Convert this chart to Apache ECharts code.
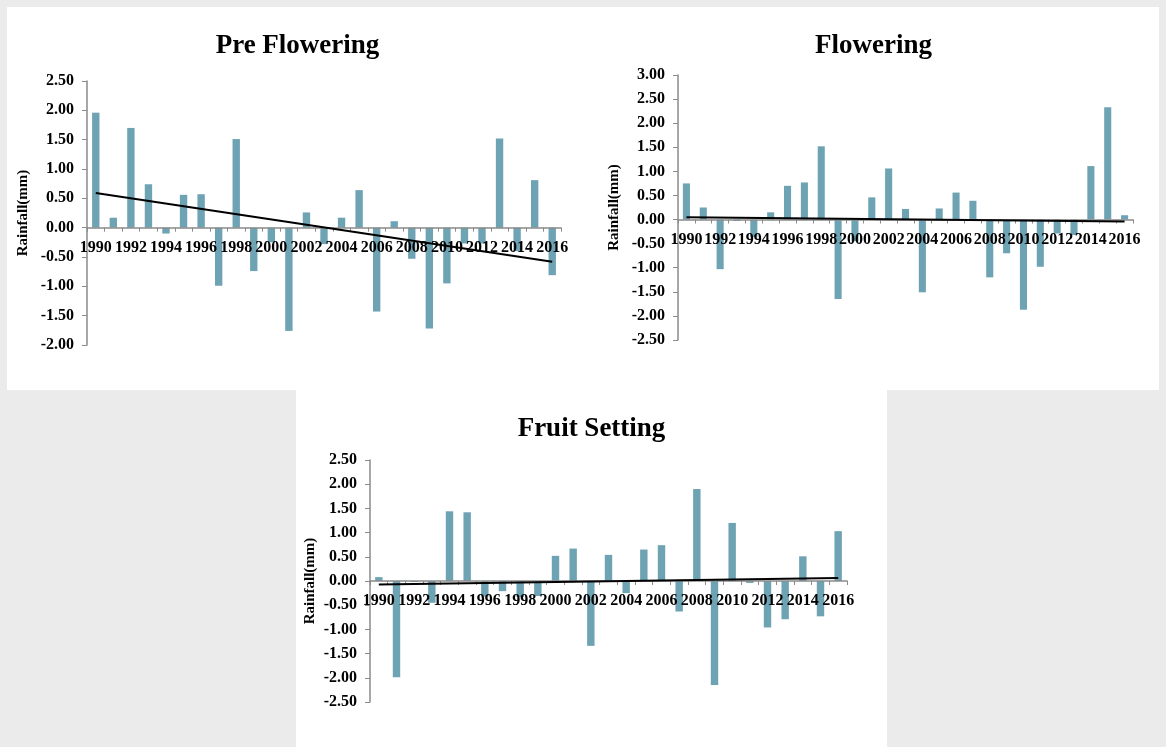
<!DOCTYPE html>
<html>
<head>
<meta charset="utf-8">
<title>Rainfall anomalies by growth stage</title>
<script src="https://cdn.jsdelivr.net/npm/echarts@6/dist/echarts.min.js"></script>
<style>
  html, body { margin: 0; padding: 0; width: 1166px; height: 747px; background: #ebebeb; overflow: hidden; }
  .panel { position: absolute; background: #ffffff; }
  #preFlowering { left: 7px; top: 7px; width: 581px; height: 383px; }
  #flowering { left: 588px; top: 7px; width: 571px; height: 383px; }
  #fruitSetting { left: 296px; top: 390px; width: 591px; height: 357px; }
</style>
</head>
<body>
<div id="preFlowering" class="panel"></div>
<div id="flowering" class="panel"></div>
<div id="fruitSetting" class="panel"></div>
<script>
// Years on the category axis
const years = [];
for (let y = 1990; y <= 2016; y++) years.push(String(y));

// Rainfall anomaly (mm) per year, one array per growth stage
const preFloweringValues = [1.96, 0.17, 1.70, 0.74, -0.10, 0.56, 0.57, -0.99, 1.51, -0.74,
  -0.25, -1.76, 0.26, -0.28, 0.17, 0.64, -1.43, 0.11, -0.53, -1.72,
  -0.95, -0.27, -0.27, 1.52, -0.40, 0.81, -0.81];
const floweringValues = [0.75, 0.25, -1.03, -0.03, -0.36, 0.15, 0.70, 0.77, 1.52, -1.65,
  -0.45, 0.46, 1.06, 0.22, -1.51, 0.23, 0.56, 0.39, -1.20, -0.70,
  -1.87, -0.98, -0.29, -0.32, 1.11, 2.33, 0.09];
const fruitSettingValues = [0.08, -1.99, -0.02, -0.45, 1.44, 1.42, -0.32, -0.21, -0.33, -0.31,
  0.52, 0.67, -1.34, 0.54, -0.25, 0.65, 0.74, -0.63, 1.90, -2.15,
  1.20, -0.04, -0.96, -0.79, 0.51, -0.73, 1.03];

// Linear trend line: value at the first and at the last year
const preFloweringTrend = [0.59, -0.58];
const floweringTrend = [0.05, -0.04];
const fruitSettingTrend = [-0.07, 0.06];

const FONT = "'Liberation Serif', 'Times New Roman', serif";
const BAR_COLOR = '#6ea3b4';
const AXIS_COLOR = '#8a8a8a';

function trendSeries(ends) {
  return years.map((_, i) => i === 0 ? ends[0] : (i === years.length - 1 ? ends[1] : null));
}

function buildChart(el, title, values, trend, yMin, yMax, grid, nameGap) {
  const chart = echarts.init(document.getElementById(el), null, { renderer: 'canvas' });
  // Lift the category axis (line, ticks and labels) up to the zero line
  const zeroOffset = -grid.height * (0 - yMin) / (yMax - yMin);
  chart.setOption({
    animation: false,
    backgroundColor: '#ffffff',
    title: {
      text: title,
      left: 'center',
      top: 21,
      textStyle: { fontFamily: FONT, fontWeight: 'bold', fontSize: 27, color: '#000' }
    },
    grid: Object.assign({ outerBoundsMode: 'none' }, grid),
    xAxis: {
      type: 'category',
      data: years,
      boundaryGap: true,
      position: 'bottom',
      offset: zeroOffset,
      z: 2,
      axisLine: { onZero: false, lineStyle: { color: AXIS_COLOR, width: 1.5 } },
      axisTick: { show: true, interval: 0, alignWithLabel: false, length: 4, lineStyle: { color: AXIS_COLOR } },
      axisLabel: {
        interval: 1,
        margin: 12,
        fontFamily: FONT, fontWeight: 'bold', fontSize: 16, color: '#000'
      },
      splitLine: { show: false }
    },
    yAxis: {
      type: 'value',
      min: yMin,
      max: yMax,
      interval: 0.5,
      name: 'Rainfall(mm)',
      nameLocation: 'middle',
      nameRotate: 90,
      nameGap: nameGap,
      nameMoveOverlap: false,
      nameTextStyle: { fontFamily: FONT, fontWeight: 'bold', fontSize: 15, color: '#000' },
      axisLine: { show: true, lineStyle: { color: AXIS_COLOR, width: 1.5 } },
      axisTick: { show: true, length: 5, lineStyle: { color: AXIS_COLOR } },
      axisLabel: {
        margin: 13,
        formatter: v => v.toFixed(2),
        fontFamily: FONT, fontWeight: 'bold', fontSize: 16, color: '#000'
      },
      splitLine: { show: false }
    },
    series: [
      {
        type: 'bar',
        data: values,
        barWidth: '42%',
        itemStyle: { color: BAR_COLOR },
        z: 1
      },
      {
        type: 'line',
        data: trendSeries(trend),
        connectNulls: true,
        symbol: 'none',
        lineStyle: { color: '#000', width: 2 },
        z: 3
      }
    ]
  });
}

buildChart('preFlowering', 'Pre Flowering', preFloweringValues, preFloweringTrend, -2, 2.5,
  { left: 80, top: 74, width: 474, height: 264 }, 56);
buildChart('flowering', 'Flowering', floweringValues, floweringTrend, -2.5, 3,
  { left: 90, top: 68, width: 455, height: 265 }, 56);
buildChart('fruitSetting', 'Fruit Setting', fruitSettingValues, fruitSettingTrend, -2.5, 2.5,
  { left: 74, top: 70, width: 477, height: 242 }, 52);
</script>
</body>
</html>
